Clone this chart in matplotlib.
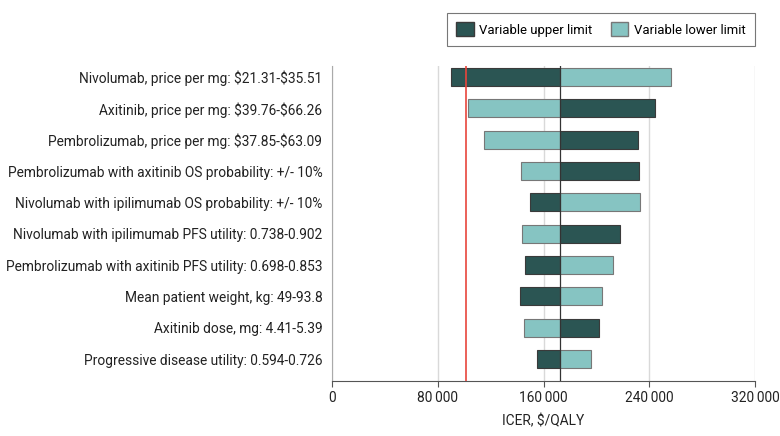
import matplotlib
matplotlib.use("Agg")
import matplotlib.pyplot as plt
from matplotlib.patches import Patch
from matplotlib.ticker import FuncFormatter

labels = [
    "Nivolumab, price per mg: \\$21.31-\\$35.51",
    "Axitinib, price per mg: \\$39.76-\\$66.26",
    "Pembrolizumab, price per mg: \\$37.85-\\$63.09",
    "Pembrolizumab with axitinib OS probability: +/- 10%",
    "Nivolumab with ipilimumab OS probability: +/- 10%",
    "Nivolumab with ipilimumab PFS utility: 0.738-0.902",
    "Pembrolizumab with axitinib PFS utility: 0.698-0.853",
    "Mean patient weight, kg: 49-93.8",
    "Axitinib dose, mg: 4.41-5.39",
    "Progressive disease utility: 0.594-0.726",
]
base_icer = 172800
upper_limit = [90100, 244000, 231700, 232000, 150000, 217900, 145700, 142200, 201800, 155000]
lower_limit = [256100, 102600, 115000, 142900, 232700, 143900, 212800, 204300, 144900, 196200]
wtp_threshold = 101000
xticks = [0, 80000, 160000, 240000, 320000]

dark = "#2b5553"
light = "#86c4c2"

plt.rcParams['font.family'] = ['Roboto', 'DejaVu Sans']

fig = plt.figure(figsize=(7.8, 4.36), dpi=100)
# fit font size so the longest label spans ~320 px like the reference
probe = fig.text(0, 0, labels[6], fontsize=10)
w = probe.get_window_extent(renderer=fig.canvas.get_renderer()).width
probe.remove()
fs = 10 * 318 / w

ax = fig.add_axes([332/780, 1-381/436, (755-332)/780, (381-66)/436])

h = 0.58
for i, (u, l) in enumerate(zip(upper_limit, lower_limit)):
    ax.barh(i, u - base_icer, left=base_icer, height=h, color=dark,
            edgecolor="#3a3a3a", linewidth=0.8, zorder=3)
    ax.barh(i, l - base_icer, left=base_icer, height=h, color=light,
            edgecolor="#777777", linewidth=0.8, zorder=3)

ax.axvline(base_icer, color="#333333", linewidth=0.9, zorder=4)
ax.axvline(wtp_threshold, color="#e8453c", linewidth=1.2, zorder=5)

ax.set_xlim(0, 320000)
ax.set_ylim(9.7, -0.35)
ax.set_xticks(xticks)
ax.xaxis.set_major_formatter(FuncFormatter(lambda v, p: f"{int(v):,}".replace(",", "\u2009")))
ax.set_yticks(range(len(labels)))
ax.set_yticklabels(labels, fontsize=fs, color="#222222")
ax.tick_params(axis='y', length=0, pad=7)
ax.tick_params(axis='x', labelsize=fs, colors="#222222", length=4, color="#555555")
ax.grid(axis='x', color="#d9d9d9", linewidth=1, zorder=0)
ax.set_axisbelow(True)
for s in ["top", "right"]:
    ax.spines[s].set_visible(False)
ax.spines["left"].set_color("#aaaaaa")
ax.spines["bottom"].set_color("#555555")
ax.set_xlabel("ICER, \\$/QALY", fontsize=fs, color="#222222", labelpad=6)

lfs = fs * 0.95
handles = [Patch(facecolor=dark, edgecolor="#3a3a3a", label="Variable upper limit"),
           Patch(facecolor=light, edgecolor="#777777", label="Variable lower limit")]
leg = fig.legend(handles=handles, loc="upper right", bbox_to_anchor=(755/780, 1-13/436),
                 borderaxespad=0, ncol=2, frameon=True, fancybox=False, fontsize=lfs,
                 handlelength=1.3, handleheight=1.3, columnspacing=1.4,
                 handletextpad=0.45, borderpad=0.7, edgecolor="#555555")
leg.get_frame().set_linewidth(0.8)

fig.savefig("out.png", dpi=100)
